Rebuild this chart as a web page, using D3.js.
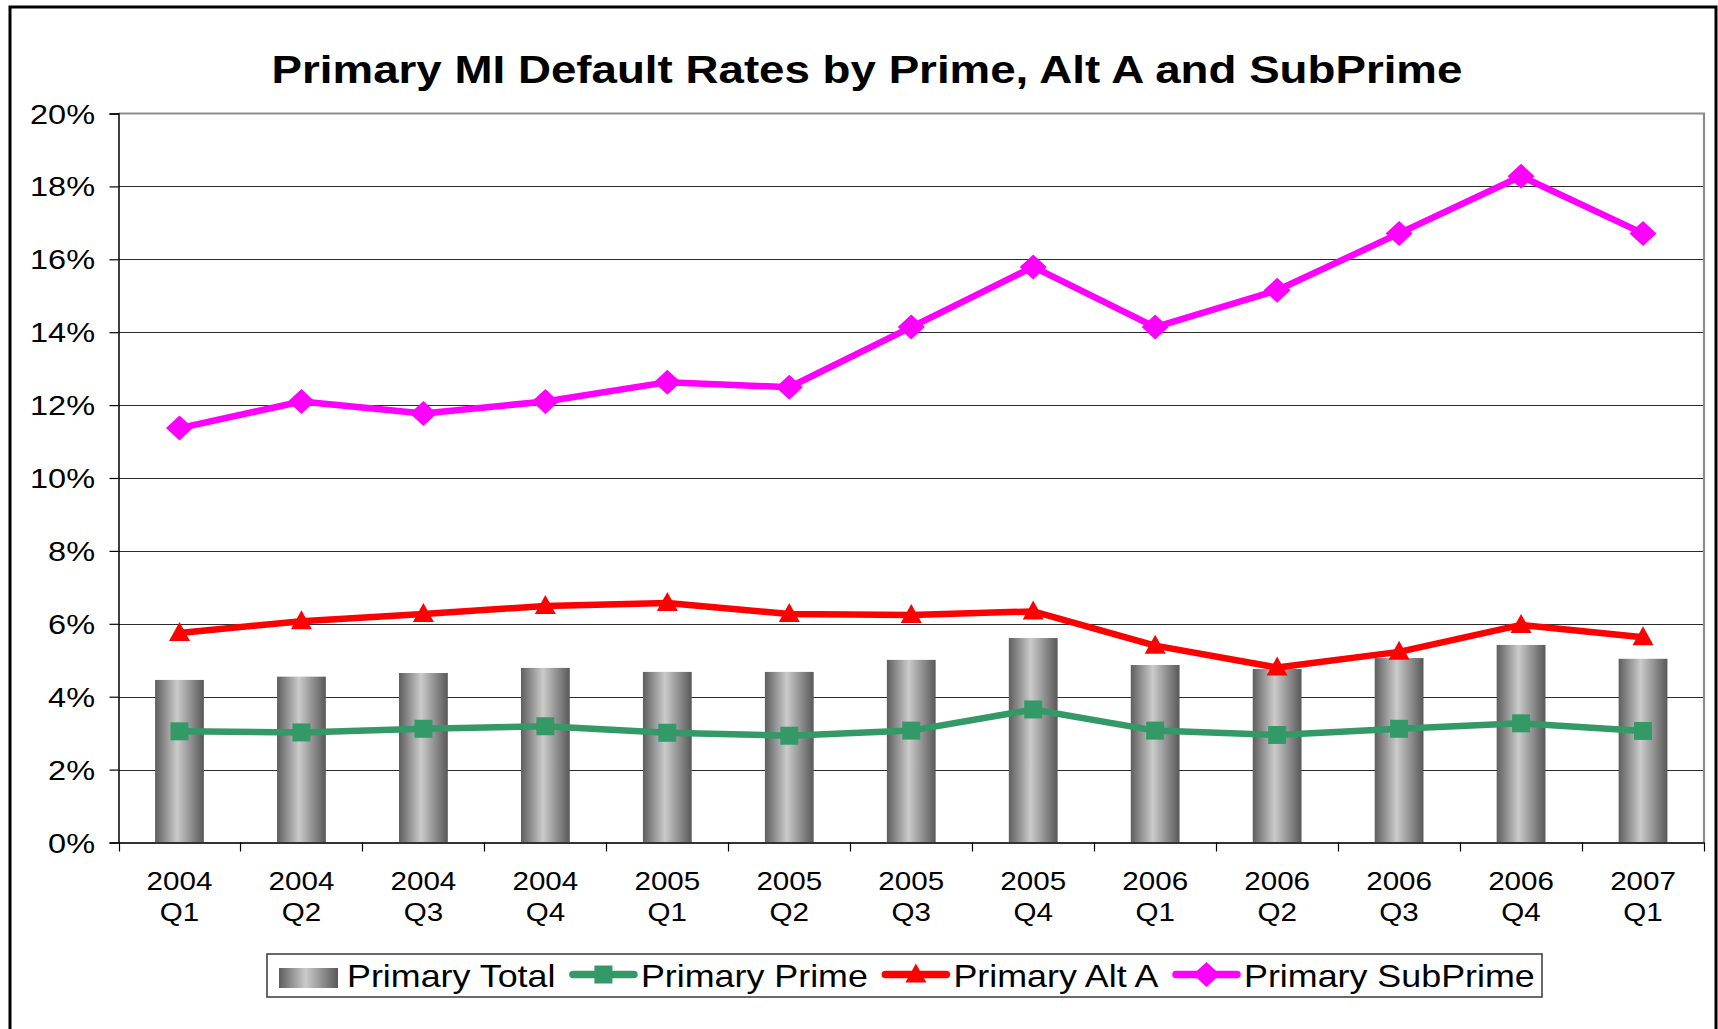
<!DOCTYPE html>
<html>
<head>
<meta charset="utf-8">
<script src="https://cdn.jsdelivr.net/npm/d3@7"></script>
<style>
  html, body { margin: 0; padding: 0; background: #fff; }
  svg { display: block; }
  text { font-family: "Liberation Sans", Arial, sans-serif; fill: #000; }
</style>
</head>
<body>
<svg id="chart" width="1718" height="1029"></svg>
<script>
// ---- Data ----
const years = ["2004","2004","2004","2004","2005","2005","2005","2005","2006","2006","2006","2006","2007"];
const quarters = ["Q1","Q2","Q3","Q4","Q1","Q2","Q3","Q4","Q1","Q2","Q3","Q4","Q1"];
const primaryTotal = [4.46, 4.55, 4.65, 4.79, 4.68, 4.68, 5.01, 5.61, 4.87, 4.76, 5.06, 5.42, 5.04];
const primaryPrime = [3.05, 3.02, 3.12, 3.19, 3.01, 2.93, 3.07, 3.65, 3.07, 2.95, 3.12, 3.27, 3.06];
const primaryAltA = [5.75, 6.07, 6.27, 6.49, 6.57, 6.27, 6.24, 6.34, 5.40, 4.80, 5.23, 5.97, 5.63];
const primarySubPrime = [11.37, 12.10, 11.77, 12.10, 12.63, 12.49, 14.14, 15.79, 14.14, 15.15, 16.71, 18.28, 16.71];
const yTicks = [0, 2, 4, 6, 8, 10, 12, 14, 16, 18, 20];
const titleText = "Primary MI Default Rates by Prime, Alt A and SubPrime";
const legendLabels = ["Primary Total", "Primary Prime", "Primary Alt A", "Primary SubPrime"];

// ---- Layout ----
const sx = 1.16; // horizontal stretch of the original typography
const svg = d3.select("#chart");
const X0 = 118.5, X1 = 1704, Y0 = 842.5, Y1 = 113.5;
const cats = years.map((y, i) => i);

const x = d3.scaleBand().domain(cats).range([X0, X1]).paddingInner(0.6).paddingOuter(0.3);
const xb = d3.scaleBand().domain(cats).range([X0, X1]);
const y = d3.scaleLinear().domain([0, 20]).range([Y0, Y1]);

function stretchedText(sel, tx, ty, str, anchor, s) {
  return sel.append("text")
    .attr("transform", `translate(${tx},${ty}) scale(${s || sx},1)`)
    .attr("text-anchor", anchor || "start")
    .text(str);
}

// background + outer frame
svg.append("rect").attr("width", 1718).attr("height", 1029).attr("fill", "#fff");
svg.append("rect").attr("x", 10).attr("y", 7).attr("width", 1706).attr("height", 1100)
  .attr("fill", "none").attr("stroke", "#000").attr("stroke-width", 3);

// gradient for bars
const defs = svg.append("defs");
const grad = defs.append("linearGradient").attr("id", "barGrad")
  .attr("x1", "0%").attr("x2", "100%").attr("y1", "0%").attr("y2", "0%");
grad.append("stop").attr("offset", "0%").attr("stop-color", "#5e5e5e");
grad.append("stop").attr("offset", "45%").attr("stop-color", "#cbcbcb");
grad.append("stop").attr("offset", "100%").attr("stop-color", "#585858");

// title
stretchedText(svg, 867, 83, titleText, "middle", 1.157)
  .attr("font-size", 39.5).attr("font-weight", "bold");

// gridlines
svg.append("g").selectAll("line").data(yTicks.filter(t => t > 0 && t < 20)).join("line")
  .attr("x1", X0).attr("x2", X1)
  .attr("y1", d => Math.round(y(d)) + 0.5).attr("y2", d => Math.round(y(d)) + 0.5)
  .attr("stroke", "#2a2a2a").attr("stroke-width", 1.2);

// plot border top & right (gray)
svg.append("path")
  .attr("d", `M${X0},${y(20)}H${X1}V${Y0}`)
  .attr("fill", "none").attr("stroke", "#8c8c8c").attr("stroke-width", 2.2);

// bars
svg.append("g").selectAll("rect").data(primaryTotal).join("rect")
  .attr("x", (d, i) => x(i))
  .attr("width", x.bandwidth())
  .attr("y", d => y(d))
  .attr("height", d => Y0 - y(d))
  .attr("fill", "url(#barGrad)");

// y axis
const yAxis = d3.axisLeft(y).tickValues(yTicks).tickSize(9).tickFormat(d => "");
const gy = svg.append("g").attr("transform", `translate(${X0},0)`).call(yAxis);
gy.select(".domain").attr("stroke", "#000").attr("stroke-width", 1.5);
gy.selectAll(".tick line").attr("stroke", "#000").attr("stroke-width", 1.2);
yTicks.forEach(t => {
  stretchedText(svg, 95, y(t) + 10, t + "%", "end").attr("font-size", 28);
});

// x axis
const xAxis = d3.axisBottom(xb).tickSize(0).tickFormat(() => "");
const gx = svg.append("g").attr("transform", `translate(0,${Y0})`).call(xAxis);
gx.select(".domain").attr("stroke", "#333").attr("stroke-width", 2);
const tickPos = cats.map(i => xb(i)).concat([X1]);
svg.append("g").selectAll("line").data(tickPos).join("line")
  .attr("x1", d => Math.round(d) + 0.5).attr("x2", d => Math.round(d) + 0.5)
  .attr("y1", Y0).attr("y2", Y0 + 9)
  .attr("stroke", "#000").attr("stroke-width", 1.2);
cats.forEach(i => {
  const cx = xb(i) + xb.bandwidth() / 2;
  stretchedText(svg, cx, 889.5, years[i], "middle").attr("font-size", 25.5);
  stretchedText(svg, cx, 920.5, quarters[i], "middle").attr("font-size", 25.5);
});

// line series
const cxOf = i => xb(i) + xb.bandwidth() / 2;
const series = [
  { name: legendLabels[1], data: primaryPrime, color: "#339966", marker: "square" },
  { name: legendLabels[2], data: primaryAltA, color: "#ff0000", marker: "triangle" },
  { name: legendLabels[3], data: primarySubPrime, color: "#ff00ff", marker: "diamond" }
];
function markerPath(type) {
  if (type === "square") return "M-9,-9H9V9H-9Z";
  if (type === "triangle") return "M0,-11L10.5,8H-10.5Z";
  return "M0,-12.5L13.5,0L0,12.5L-13.5,0Z";
}
const line = d3.line().x((d, i) => cxOf(i)).y(d => y(d));
series.forEach(s => {
  svg.append("path").datum(s.data)
    .attr("d", line)
    .attr("fill", "none").attr("stroke", s.color).attr("stroke-width", 6.5)
    .attr("stroke-linejoin", "round");
  svg.append("g").selectAll("path").data(s.data).join("path")
    .attr("transform", (d, i) => `translate(${cxOf(i)},${y(d)})`)
    .attr("d", markerPath(s.marker))
    .attr("fill", s.color);
});

// legend
const LX0 = 267, LX1 = 1542, LY0 = 954, LY1 = 997;
svg.append("rect").attr("x", LX0).attr("y", LY0).attr("width", LX1 - LX0).attr("height", LY1 - LY0)
  .attr("fill", "#fff").attr("stroke", "#444").attr("stroke-width", 1.6);
const lg = svg.append("g");
const baseY = 987, midY = 974.5;
let cur = 279;
// item 0: swatch
lg.append("rect").attr("x", cur).attr("y", 968).attr("width", 59).attr("height", 20).attr("fill", "url(#barGrad)");
cur += 68;
let t0 = stretchedText(lg, cur, baseY, legendLabels[0]).attr("font-size", 30.9);
cur += t0.node().getComputedTextLength() * sx + 15.5;
series.forEach((s, k) => {
  lg.append("line").attr("x1", cur + 2).attr("x2", cur + 63).attr("y1", midY).attr("y2", midY)
    .attr("stroke", s.color).attr("stroke-width", 7.5).attr("stroke-linecap", "round");
  lg.append("path").attr("transform", `translate(${cur + 32.5},${midY})`)
    .attr("d", markerPath(s.marker)).attr("fill", s.color);
  cur += 70;
  const t = stretchedText(lg, cur, baseY, s.name).attr("font-size", 30.9);
  cur += t.node().getComputedTextLength() * sx + 15.5;
});
</script>
</body>
</html>
